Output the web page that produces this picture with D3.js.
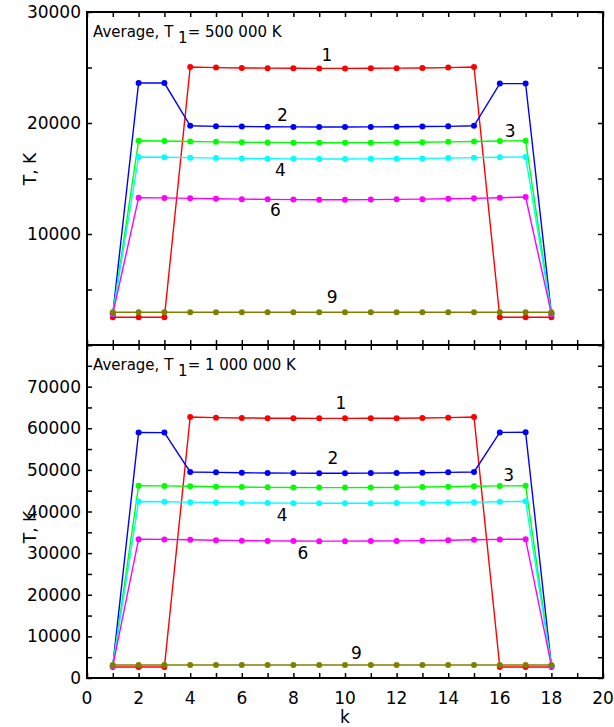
<!DOCTYPE html>
<html>
<head>
<meta charset="utf-8">
<script src="https://cdn.jsdelivr.net/npm/d3@7"></script>
<style>
  body { margin: 0; background: #fff; }
  text { font-family: "DejaVu Sans", sans-serif; fill: #000; }
</style>
</head>
<body>
<svg id="chart" width="614" height="727"></svg>
<script>
// k = 1..18 (layer index)
var kValues = d3.range(1, 19);
var seriesNames = ["1", "2", "3", "4", "6", "9"];
var seriesColors = ["#ff0000", "#0000ff", "#00ff00", "#00ffff", "#ff00ff", "#808000"];

// panel 1: T1 = 500 000 K
var top1 = [2500, 2500, 2500, 25050, 24990, 24960, 24940, 24930, 24920, 24920, 24930, 24940, 24960, 24990, 25050, 2500, 2500, 2500];
var top2 = [2800, 23600, 23600, 19750, 19700, 19680, 19660, 19650, 19640, 19640, 19650, 19660, 19680, 19700, 19750, 23550, 23550, 2800];
var top3 = [2800, 18400, 18380, 18340, 18300, 18270, 18250, 18230, 18220, 18220, 18230, 18250, 18270, 18300, 18340, 18380, 18400, 2800];
var top4 = [2800, 16940, 16920, 16880, 16840, 16810, 16790, 16770, 16760, 16760, 16770, 16790, 16810, 16840, 16880, 16920, 16940, 2800];
var top6 = [2800, 13270, 13250, 13210, 13170, 13140, 13120, 13100, 13090, 13090, 13100, 13120, 13140, 13170, 13210, 13270, 13330, 2800];
var top9 = [2950, 2950, 2950, 2950, 2950, 2950, 2950, 2950, 2950, 2950, 2950, 2950, 2950, 2950, 2950, 2950, 2950, 2950];

// panel 2: T1 = 1 000 000 K
var bot1 = [2640, 2640, 2640, 62700, 62550, 62480, 62420, 62400, 62380, 62380, 62400, 62420, 62480, 62550, 62700, 2640, 2640, 2640];
var bot2 = [2900, 59000, 58950, 49500, 49400, 49300, 49250, 49220, 49200, 49200, 49220, 49250, 49300, 49400, 49500, 59000, 59050, 2900];
var bot3 = [2900, 46200, 46150, 46050, 45950, 45870, 45800, 45760, 45740, 45740, 45760, 45800, 45870, 45950, 46050, 46150, 46200, 2900];
var bot4 = [2900, 42400, 42350, 42250, 42150, 42080, 42030, 42000, 41990, 41990, 42000, 42030, 42080, 42150, 42250, 42350, 42450, 2900];
var bot6 = [2900, 33350, 33300, 33200, 33080, 33000, 32940, 32900, 32880, 32880, 32900, 32940, 33000, 33080, 33200, 33300, 33360, 2900];
var bot9 = [3120, 3120, 3120, 3120, 3120, 3120, 3120, 3120, 3120, 3120, 3120, 3120, 3120, 3120, 3120, 3120, 3120, 3120];

// curve labels: [k, T]
var topLabelPos = [[9.3, 26100], [7.57, 20750], [16.4, 19300], [7.5, 15770], [7.3, 12160], [9.5, 4320]];
var botLabelPos = [[9.84, 66000], [9.53, 52800], [16.34, 48790], [7.56, 39190], [8.37, 30140], [10.44, 6000]];

var xTicks = d3.range(0, 21, 2);
var topYTicks = [10000, 20000, 30000];
var botYTicks = [0, 10000, 20000, 30000, 40000, 50000, 60000, 70000];

var svg = d3.select("#chart");
var left = 87, right = 603;

var x = d3.scaleLinear().domain([0, 20]).range([left, right]);

function panel(opts) {
  var y = d3.scaleLinear().domain(opts.domain).range([opts.bottom, opts.top]);
  var g = svg.append("g");
  var sets = opts.series;

  var line = d3.line()
    .x(function(d, i) { return x(kValues[i]); })
    .y(function(d) { return y(d); });

  sets.forEach(function(vals, si) {
    g.append("path")
      .attr("d", line(vals))
      .attr("fill", "none")
      .attr("stroke", seriesColors[si])
      .attr("stroke-width", 1.4);
    g.selectAll(null).data(vals).enter().append("circle")
      .attr("cx", function(d, i) { return x(kValues[i]); })
      .attr("cy", function(d) { return y(d); })
      .attr("r", 3)
      .attr("fill", seriesColors[si]);
  });

  g.selectAll(null).data(opts.labels).enter().append("text")
    .attr("x", function(d) { return x(d[0]); })
    .attr("y", function(d) { return y(d[1]); })
    .attr("text-anchor", "middle")
    .attr("dominant-baseline", "central")
    .style("font-size", "17px")
    .text(function(d, i) { return seriesNames[i]; });

  // axes with inward ticks
  var minorY = d3.range(opts.domain[0], opts.domain[1] + 1, 5000);
  var minorX = d3.range(0, 21, 1);

  var axL = d3.axisRight(y).tickValues(minorY).tickSize(5).tickFormat("");
  var axR = d3.axisLeft(y).tickValues(minorY).tickSize(5).tickFormat("");
  var axT = d3.axisBottom(x).tickValues(minorX).tickSize(5).tickFormat("");
  var axB = d3.axisTop(x).tickValues(minorX).tickSize(5).tickFormat("");

  [[axL, "translate(" + left + ",0)"], [axR, "translate(" + right + ",0)"],
   [axT, "translate(0," + opts.top + ")"], [axB, "translate(0," + opts.bottom + ")"]]
    .forEach(function(a) {
      var ag = g.append("g").attr("transform", a[1]).call(a[0]);
      ag.select(".domain").remove();
      ag.selectAll("line").attr("stroke", "#000").attr("stroke-width", 1.5);
    });

  g.append("rect")
    .attr("x", left).attr("y", opts.top)
    .attr("width", right - left).attr("height", opts.bottom - opts.top)
    .attr("fill", "none").attr("stroke", "#000").attr("stroke-width", 2);

  g.selectAll(null).data(opts.yTicks).enter().append("text")
    .attr("x", left - 6)
    .attr("y", function(d) { return y(d); })
    .attr("text-anchor", "end")
    .attr("dominant-baseline", "central")
    .style("font-size", "17px")
    .text(function(d) { return d; });

  var t = g.append("text")
    .attr("x", 93).attr("y", opts.top + 25)
    .style("font-size", "15px");
  t.append("tspan").text("Average, T ");
  t.append("tspan").attr("dy", 6).text("1");
  t.append("tspan").attr("dy", -6).text("= " + opts.t1);

  g.append("text")
    .attr("transform", "translate(30," + opts.ylabelY + ") rotate(-90)")
    .attr("text-anchor", "middle")
    .attr("dominant-baseline", "central")
    .style("font-size", "17px")
    .text("T, K");
}

panel({ domain: [0, 30000], top: 12, bottom: 345, series: [top1, top2, top3, top4, top6, top9],
        labels: topLabelPos, yTicks: topYTicks, t1: "500 000 K", ylabelY: 169 });
panel({ domain: [0, 80000], top: 345, bottom: 678, series: [bot1, bot2, bot3, bot4, bot6, bot9],
        labels: botLabelPos, yTicks: botYTicks, t1: "1 000 000 K", ylabelY: 527 });

svg.selectAll(null).data(xTicks).enter().append("text")
  .attr("x", function(d) { return x(d); })
  .attr("y", 698)
  .attr("text-anchor", "middle")
  .attr("dominant-baseline", "central")
  .style("font-size", "17px")
  .text(function(d) { return d; });

svg.append("text")
  .attr("x", 345).attr("y", 717)
  .attr("text-anchor", "middle")
  .attr("dominant-baseline", "central")
  .style("font-size", "17px")
  .text("k");
</script>
</body>
</html>
